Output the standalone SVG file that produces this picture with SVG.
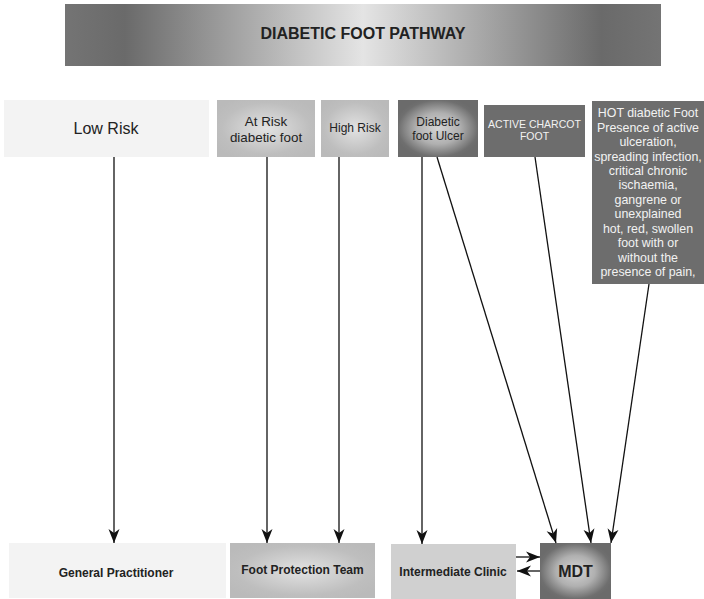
<svg xmlns="http://www.w3.org/2000/svg" width="704" height="599" viewBox="0 0 704 599">
<defs>
<linearGradient id="banner" x1="0" y1="0" x2="1" y2="0">
<stop offset="0" stop-color="#747474"/>
<stop offset="0.1" stop-color="#6a6a6a"/>
<stop offset="0.5" stop-color="#e4e4e4"/>
<stop offset="0.9" stop-color="#6a6a6a"/>
<stop offset="1" stop-color="#747474"/>
</linearGradient>
<radialGradient id="grey" cx="0.5" cy="0.5" r="0.6">
<stop offset="0" stop-color="#e2e2e2"/>
<stop offset="0.75" stop-color="#bebebe"/>
<stop offset="1" stop-color="#bababa"/>
</radialGradient>
<radialGradient id="dark" cx="0.5" cy="0.5" r="0.55">
<stop offset="0" stop-color="#d4d4d4"/>
<stop offset="0.5" stop-color="#b0b0b0"/>
<stop offset="0.9" stop-color="#6f6f6f"/>
<stop offset="1" stop-color="#6b6b6b"/>
</radialGradient>
<marker id="ah" markerUnits="userSpaceOnUse" markerWidth="16" markerHeight="14" viewBox="-15 -7 16 14" refX="0" refY="0" orient="auto">
<path d="M0,0 L-14,-5.5 L-10,0 L-14,5.5 Z" fill="#111"/>
</marker>
</defs>
<style>
text{font-family:"Liberation Sans",Arial,sans-serif;text-anchor:middle;dominant-baseline:central}
.dk{fill:#222}
.wt{fill:#f2f2f2}
.b{font-weight:bold}
.ln{stroke:#111;stroke-width:1.3;fill:none;marker-end:url(#ah)}
</style>

<g id="title">
<rect x="65" y="4" width="596" height="62" fill="url(#banner)"/>
<text x="363" y="33" class="dk b" font-size="16">DIABETIC FOOT PATHWAY</text>
</g>

<g id="low-risk">
<rect x="4" y="100" width="205" height="57" fill="#f3f3f3"/>
<text x="106" y="128" class="dk" font-size="16">Low Risk</text>
</g>
<g id="at-risk">
<rect x="217" y="100" width="98" height="57" fill="url(#grey)"/>
<text x="266" y="121" class="dk" font-size="13.4">At Risk</text>
<text x="266" y="137" class="dk" font-size="13.4">diabetic foot</text>
</g>
<g id="high-risk">
<rect x="321" y="100" width="68" height="57" fill="url(#grey)"/>
<text x="355" y="128" class="dk" font-size="12">High Risk</text>
</g>
<g id="ulcer">
<rect x="398" y="100" width="80" height="57" fill="url(#dark)"/>
<text x="438" y="122" class="dk" font-size="12">Diabetic</text>
<text x="438" y="136" class="dk" font-size="12">foot Ulcer</text>
</g>
<g id="charcot">
<rect x="484" y="105" width="101" height="52" fill="#6d6d6d"/>
<text x="534.5" y="124" class="wt" font-size="10.5">ACTIVE CHARCOT</text>
<text x="534.5" y="136" class="wt" font-size="10.5">FOOT</text>
</g>
<g id="hot">
<rect x="592" y="101" width="112" height="183" fill="#6d6d6d"/>
<g class="wt" font-size="12.4">
<text x="648" y="113">HOT diabetic Foot</text>
<text x="648" y="127.5">Presence of active</text>
<text x="648" y="142">ulceration,</text>
<text x="648" y="156.5">spreading infection,</text>
<text x="648" y="171">critical chronic</text>
<text x="648" y="185">ischaemia,</text>
<text x="648" y="199.5">gangrene or</text>
<text x="648" y="214">unexplained</text>
<text x="648" y="228.5">hot, red, swollen</text>
<text x="648" y="243">foot with or</text>
<text x="648" y="257.5">without the</text>
<text x="648" y="272">presence of pain,</text>
</g>
</g>

<g id="gp">
<rect x="9" y="543" width="217" height="55" fill="#f3f3f3"/>
<text x="116" y="573" class="dk b" font-size="12">General Practitioner</text>
</g>
<g id="fpt">
<rect x="230" y="543" width="145" height="55" fill="url(#grey)"/>
<text x="302.5" y="570" class="dk b" font-size="12">Foot Protection Team</text>
</g>
<g id="ic">
<rect x="391" y="544" width="125" height="55" fill="#d0d0d0"/>
<text x="453" y="572" class="dk b" font-size="12">Intermediate Clinic</text>
</g>
<g id="mdt">
<rect x="540" y="543" width="71" height="56" fill="url(#dark)"/>
<text x="575.5" y="571" class="dk b" font-size="16">MDT</text>
</g>

<g id="connectors">
<line class="ln" x1="114" y1="157" x2="114" y2="543"/>
<line class="ln" x1="267" y1="157" x2="267" y2="543"/>
<line class="ln" x1="339" y1="157" x2="339" y2="543"/>
<line class="ln" x1="422" y1="157" x2="422" y2="544"/>
<line class="ln" x1="437" y1="157" x2="556" y2="543"/>
<line class="ln" x1="535" y1="157" x2="591" y2="543"/>
<line class="ln" x1="649" y1="284" x2="611" y2="543"/>
<line class="ln" x1="516" y1="557" x2="540" y2="557"/>
<line class="ln" x1="540" y1="571" x2="517" y2="571"/>
</g>
</svg>
